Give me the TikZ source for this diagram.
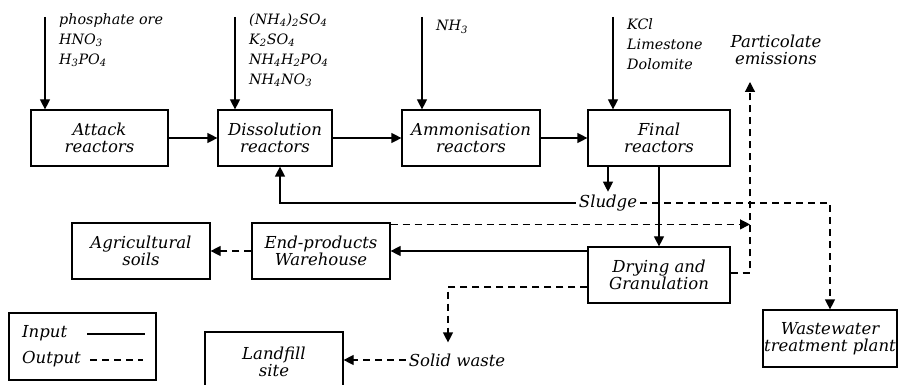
\documentclass[tikz,border=0pt]{standalone}
\usepackage{fontspec}
\setmainfont{DejaVu Serif}
\usetikzlibrary{arrows.meta}

\newcommand{\boxfont}{\fontsize{16.5}{17}\selectfont\itshape}
\newcommand{\lblfont}{\fontsize{14.3}{20}\selectfont\itshape}

\tikzset{
  box/.style={draw, line width=1.2pt, minimum height=56pt, inner sep=0pt, align=center, font=\boxfont},
  arr/.style={line width=1.2pt, -{Triangle[length=10pt,width=10pt]}},
  darr/.style={arr, dash pattern=on 7pt off 5pt},
  lbl/.style={anchor=north west, align=left, inner sep=0pt, font=\lblfont},
}

\begin{document}
\begin{tikzpicture}[x=1pt,y=-1pt]
    \useasboundingbox (0,0) rectangle (898,385);

    % reactors
    \node[box, minimum width=137pt] (attack) at (99.5,138) {Attack\\reactors};
    \node[box, minimum width=114pt] (dissol) at (275,138) {Dissolution\\reactors};
    \node[box, minimum width=138pt] (ammon) at (471,138) {Ammonisation\\reactors};
    \node[box, minimum width=142pt] (final) at (659,138) {Final\\reactors};

    % products and wastes
    \node[box, minimum width=138pt] (agri) at (141,251) {Agricultural\\soils};
    \node[box, minimum width=138pt] (ware) at (321,251) {End-products\\Warehouse};
    \node[box, minimum width=142pt] (dry) at (659,275) {Drying and\\Granulation};
    \node[box, minimum width=138pt, minimum height=60pt] (landfill) at (274,362) {Landfill\\site};
    \node[box, minimum width=134pt, minimum height=57pt] (waste) at (830,338.5) {Wastewater\\treatment plant};

    % inputs
    \coordinate (inA) at (45,17); \coordinate (inD) at (235,17);
    \coordinate (inN) at (422,17); \coordinate (inF) at (613,17);
    \draw[arr] (inA) -- (inA |- attack.north);
    \draw[arr] (inD) -- (inD |- dissol.north);
    \draw[arr] (inN) -- (inN |- ammon.north);
    \draw[arr] (inF) -- (inF |- final.north);
    \node[lbl] (labA) at (59,13) {phosphate ore\\HNO\textsubscript{3}\\H\textsubscript{3}PO\textsubscript{4}};
    \node[lbl] (labD) at (249,13) {(NH\textsubscript{4})\textsubscript{2}SO\textsubscript{4}\\K\textsubscript{2}SO\textsubscript{4}\\NH\textsubscript{4}H\textsubscript{2}PO\textsubscript{4}\\NH\textsubscript{4}NO\textsubscript{3}};
    \node[lbl] (labN) at (436,20) {NH\textsubscript{3}};
    \node[lbl] (labF) at (627,18) {KCl\\Limestone\\Dolomite};

    % main line
    \draw[arr] (attack) -- (dissol);
    \draw[arr] (dissol) -- (ammon);
    \draw[arr] (ammon) -- (final);
    \draw[arr] (final) -- (dry);

    % outputs
    \node[font=\boxfont, align=center, inner sep=0pt] (emis) at (776,50) {\fontsize{16.5}{20}\selectfont Particolate\\emissions};
    \coordinate (pe) at (750,82);
    \node[font=\boxfont, inner sep=3pt] (sludge) at (608,203) {Sludge};
    \node[font=\boxfont, inner sep=3pt] (solid) at (457,360) {Solid waste};

    \draw[arr] (final.south -| sludge.north) -- (sludge.north);
    \draw[arr] (sludge.west) -| ([xshift=5pt]dissol.south);
    \draw[darr] (sludge.east) -| (waste.north);
    \draw[arr] (dry.west |- ware.east) -- (ware.east);
    \draw[darr] ([yshift=-2pt]ware.north east) -- ([yshift=-2pt]ware.north east -| pe);
    \draw[darr] ([yshift=2pt]dry.east) -| (pe);
    \draw[darr, shorten >=8pt] ([yshift=-12pt]dry.west) -| ([xshift=-9pt]solid.north);
    \draw[darr] (solid.west) -- (landfill.east |- solid.west);
    \draw[darr] (ware.west) -- (agri.east);

    % legend
    \node[box, minimum width=147pt, minimum height=67pt] (legend) at (82.5,346.5) {};
    \node[font=\boxfont, anchor=west, inner sep=0pt] (inp) at (22,333) {Input};
    \node[font=\boxfont, anchor=west, inner sep=0pt] (outp) at (22,359) {Output};
    \coordinate (inpA) at (87,334); \coordinate (inpB) at (145,334);
    \coordinate (outA) at (90,360); \coordinate (outB) at (143,360);
    \draw[line width=1.2pt] (inpA) -- (inpB);
    \draw[line width=1.2pt, dash pattern=on 7pt off 5pt] (outA) -- (outB);
\end{tikzpicture}
\end{document}
